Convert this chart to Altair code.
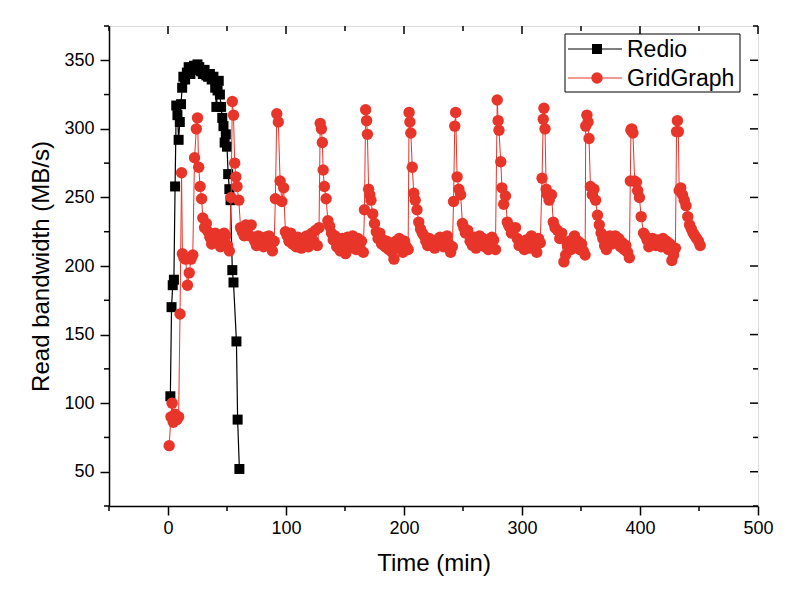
import altair as alt
import pandas as pd

# ---------------- data ----------------
redio_time = [2, 3, 4, 5, 6, 7, 8, 9, 10, 11, 12, 13, 14.5, 16, 17.5, 19, 20.5, 22, 23.5, 25,
              26.5, 28, 29.5, 31, 32.5, 34, 35.5, 37, 38.5, 40, 41, 42, 43, 44, 45, 46, 47, 48,
              49, 50, 51, 52, 53, 54.5, 55.5, 58, 59, 60.5]
redio_bw = [105, 170, 186, 190, 258, 317, 310, 292, 305, 318, 330, 338, 336, 341, 345, 340, 343,
            346, 344, 347, 345, 342, 340, 343, 339, 338, 340, 336, 338, 330, 316, 328, 335, 325,
            316, 308, 302, 290, 296, 287, 267, 256, 248, 197, 188, 145, 88, 52]

grid_time = [
    1, 2.5, 3.5, 4.5, 6, 7.5, 9, 10.2, 11.5, 12.2, 13.5, 15, 16.5, 18, 19.5, 21, 22.5, 24, 25, 26,
    27.2, 28.5, 29.5, 31, 32.5, 34, 35.5, 37, 38.5, 40, 41.5, 43, 44.5, 46, 47.5, 49, 50.5, 52,
    53.5, 54.5, 55.5, 56.5, 57.5, 58.5, 60, 61.5, 63, 64.5, 66, 67.5, 69, 70.5, 72, 73.5, 75, 76.5,
    78, 79.5, 81, 82.5, 84, 85.5, 87, 88.5, 90,
    91, 92.2, 93.5, 95, 96.5, 98, 99.5, 101, 102.5, 104, 105.5, 107, 108.5, 110, 111.5, 113, 114.5,
    116, 117.5, 119, 120.5, 122, 123.5, 125, 126.5, 128,
    129, 130, 130.8, 131.5, 132.5, 134, 135.5, 137, 138.5, 140, 141.5, 143, 144.5, 146, 147.5, 149,
    150.5, 152, 153.5, 155, 156.5, 158, 159.5, 161, 162.5, 164, 165.5,
    166.5, 167.5, 168.3, 169, 170, 171, 172, 173.5, 175, 176.5, 178, 179.5, 181, 182.5, 184, 185.5,
    187, 188.5, 190, 191.5, 193, 194.5, 196, 197.5, 199, 200.5, 202, 203.5,
    204.3, 205, 205.8, 207, 208.3, 209.5, 211, 212.5, 214, 215.5, 217, 218.5, 220, 221.5, 223, 224.5,
    226, 227.5, 229, 230.5, 232, 233.5, 235, 236.5, 238, 239.5, 241,
    242, 243, 243.8, 245, 246.5, 248, 249.5, 250.7, 252, 254, 256, 258, 259.5, 261, 262.5, 264, 265.5,
    267, 268.5, 270, 271.5, 273, 274.5, 276, 277.5,
    279, 279.8, 280.5, 282, 283, 284.5, 286, 287.5, 289, 291, 292.5, 294.5, 296, 297.5, 299, 300.5,
    302, 303.5, 305, 306.5, 308, 309.5, 311, 312.5, 314, 315.5,
    317, 318, 318.6, 319.5, 320.5, 321.5, 323, 325, 326.5, 328, 330, 332, 333.7, 335.5, 337, 338.5,
    340, 341.5, 343, 344.5, 346, 347.5, 349, 350.5, 352, 353.5,
    354, 355, 356, 356.8, 358, 359.6, 361, 362.4, 364, 365.5, 367, 368.5, 370, 371.5, 373, 374.5, 376,
    377.5, 379, 380.5, 382, 383.5, 385, 386.5, 388, 389.5, 391,
    391.8, 392.3, 393, 394, 395.5, 397, 398, 399.5, 401, 403, 404.5, 406, 407.5, 409, 410.5, 412,
    413.5, 415, 416.5, 418, 419.5, 421, 422.5, 424, 425.5, 427, 428.5, 430,
    431, 431.7, 432.5, 433.2, 434.5, 436, 437.5, 439, 440.5, 442, 443.5, 445, 446.5, 448, 449.5, 451]
grid_bw = [
    69, 90, 100, 86, 92, 88, 90, 165, 268, 209, 206, 205, 186, 195, 205, 208, 279, 300, 308, 272,
    258, 249, 235, 228, 231, 225, 221, 216, 220, 224, 218, 222, 214, 220, 224, 222, 215, 211,
    250, 320, 310, 275, 265, 258, 248, 228, 225, 222, 230, 228, 222, 230, 221, 218, 215, 222,
    216, 220, 214, 221, 218, 222, 215, 211, 218,
    249, 311, 305, 262, 247, 257, 225, 222, 218, 224, 216, 219, 214, 221, 218, 213, 220,
    216, 222, 214, 219, 224, 218, 226, 215, 228,
    304, 300, 290, 270, 258, 249, 233, 229, 224, 219, 222, 214, 218, 211, 220, 216,
    209, 221, 213, 218, 222, 215, 212, 220, 214, 218, 210,
    241, 314, 306, 296, 256, 252, 248, 238, 231, 225, 220, 224, 216, 219, 214, 218,
    212, 216, 210, 205, 218, 214, 220, 215, 210, 218, 214, 212,
    312, 305, 297, 272, 253, 248, 241, 232, 227, 224, 222, 218, 215, 220, 215, 218,
    213, 219, 216, 221, 220, 214, 218, 222, 216, 210, 214,
    247, 302, 312, 265, 256, 252, 231, 228, 224, 226, 218, 215, 221, 213, 218, 222, 217,
    220, 214, 218, 212, 216, 221, 219, 212,
    321, 306, 299, 276, 257, 245, 251, 232, 229, 224, 226, 228, 220, 215, 218, 214,
    212, 219, 216, 213, 222, 217, 214, 210, 220, 217,
    264, 307, 315, 300, 256, 252, 248, 252, 232, 228, 226, 220, 224, 203, 208, 215,
    218, 212, 217, 222, 214, 218, 212, 216, 211, 208,
    302, 310, 305, 293, 258, 252, 256, 248, 237, 230, 224, 220, 215, 212, 218, 222, 216,
    219, 222, 217, 220, 214, 217, 212, 215, 210, 206,
    262, 299, 300, 297, 262, 261, 255, 250, 236, 224, 222, 219, 214, 217, 220, 218,
    215, 219, 216, 214, 220, 215, 218, 212, 216, 204, 208, 213,
    298, 306, 298, 255, 257, 252, 248, 244, 236, 230, 227, 224, 222, 220, 218, 215]

x_major = [0, 100, 200, 300, 400, 500]
x_minor = [-50, 50, 150, 250, 350, 450]
y_major = [50, 100, 150, 200, 250, 300, 350]
y_minor = [25, 75, 125, 175, 225, 275, 325, 375]
series_names = ["Redio", "GridGraph"]

# ---------------- styling ----------------
W, H = 649, 480
FONT = "Liberation Sans"
RED = "#e8352a"
BLACK = "#000000"

xscale = alt.Scale(domain=[-50, 500], nice=False, zero=False)
yscale = alt.Scale(domain=[25, 375], nice=False, zero=False)

x_axis = alt.Axis(values=x_major, title="Time (min)", grid=False, tickSize=9, tickWidth=1.5,
                  domainWidth=1.5, domainColor=BLACK, tickColor=BLACK, labelColor=BLACK,
                  titleColor=BLACK, labelFont=FONT, titleFont=FONT, labelFontSize=18,
                  titleFontSize=24, titleFontWeight="normal", labelPadding=4, titlePadding=14,
                  labelFlush=False)
y_axis = alt.Axis(values=y_major, title="Read bandwidth (MB/s)", grid=False, tickSize=9,
                  tickWidth=1.5, domainWidth=1.5, domainColor=BLACK, tickColor=BLACK,
                  labelColor=BLACK, titleColor=BLACK, labelFont=FONT, titleFont=FONT,
                  labelFontSize=18, titleFontSize=24, titleFontWeight="normal", labelPadding=6,
                  titlePadding=10, labelFlush=False)

df_r = pd.DataFrame({"t": redio_time, "bw": redio_bw})
df_g = pd.DataFrame({"t": grid_time, "bw": grid_bw})

X = alt.X("t:Q", scale=xscale, axis=x_axis)
Y = alt.Y("bw:Q", scale=yscale, axis=y_axis)

redio_line = alt.Chart(df_r).mark_line(color=BLACK, strokeWidth=1.2).encode(x=X, y=Y)
redio_pts = alt.Chart(df_r).mark_point(shape="square", filled=True, color=BLACK, size=100,
                                       opacity=1).encode(x=X, y=Y)
grid_line = alt.Chart(df_g).mark_line(color=RED, strokeWidth=1).encode(x=X, y=Y)
grid_pts = alt.Chart(df_g).mark_point(shape="circle", filled=True, color=RED, size=130,
                                      opacity=1).encode(x=X, y=Y)

# extra ticks (minor outward, mirrored inward on top/right)
dfx_major = pd.DataFrame({"t": x_major})
dfx_minor = pd.DataFrame({"t": x_minor})
dfy_major = pd.DataFrame({"bw": y_major})
dfy_minor = pd.DataFrame({"bw": y_minor})

def xtick(df, y0, y1):
    return alt.Chart(df).mark_rule(color=BLACK, strokeWidth=1.5).encode(
        x=X, y=alt.value(y0), y2=alt.value(y1))

def ytick(df, x0, x1):
    return alt.Chart(df).mark_rule(color=BLACK, strokeWidth=1.5).encode(
        y=Y, x=alt.value(x0), x2=alt.value(x1))

ticks = [
    xtick(dfx_minor, H, H + 5),
    xtick(dfx_major, 0, 8),
    xtick(dfx_minor, 0, 5),
    ytick(dfy_minor, -5, 0),
    ytick(dfy_major, W - 8, W),
    ytick(dfy_minor, W - 5, W),
]

# legend (manual, in the top-right corner of the plot)
one = alt.Data(values=[{"k": 1}])
leg_box = alt.Chart(one).mark_rect(fill="white", stroke=BLACK, strokeWidth=1).encode(
    x=alt.value(456), x2=alt.value(631), y=alt.value(8), y2=alt.value(66))
leg = [leg_box]
for name, col, shp, sz, ly in [(series_names[0], BLACK, "square", 100, 23),
                               (series_names[1], RED, "circle", 130, 52)]:
    leg.append(alt.Chart(one).mark_rule(color=col, strokeWidth=1.2).encode(
        x=alt.value(459), x2=alt.value(513), y=alt.value(ly)))
    leg.append(alt.Chart(one).mark_point(shape=shp, filled=True, color=col, size=sz,
                                         opacity=1).encode(x=alt.value(488), y=alt.value(ly)))
    leg.append(alt.Chart(one).mark_text(text=name, align="left", baseline="middle", font=FONT,
                                        fontSize=23, color=BLACK).encode(
        x=alt.value(518), y=alt.value(ly + 1)))

chart = alt.layer(redio_line, redio_pts, grid_line, grid_pts, *ticks, *leg).properties(
    width=W, height=H,
    autosize=alt.AutoSizeParams(type="none"),
    padding={"left": 109, "top": 26, "right": 38, "bottom": 92},
).configure_view(stroke=BLACK, strokeWidth=1.5).configure(background="white")

chart.save("out.html", embed_options={"renderer": "svg", "actions": False})
